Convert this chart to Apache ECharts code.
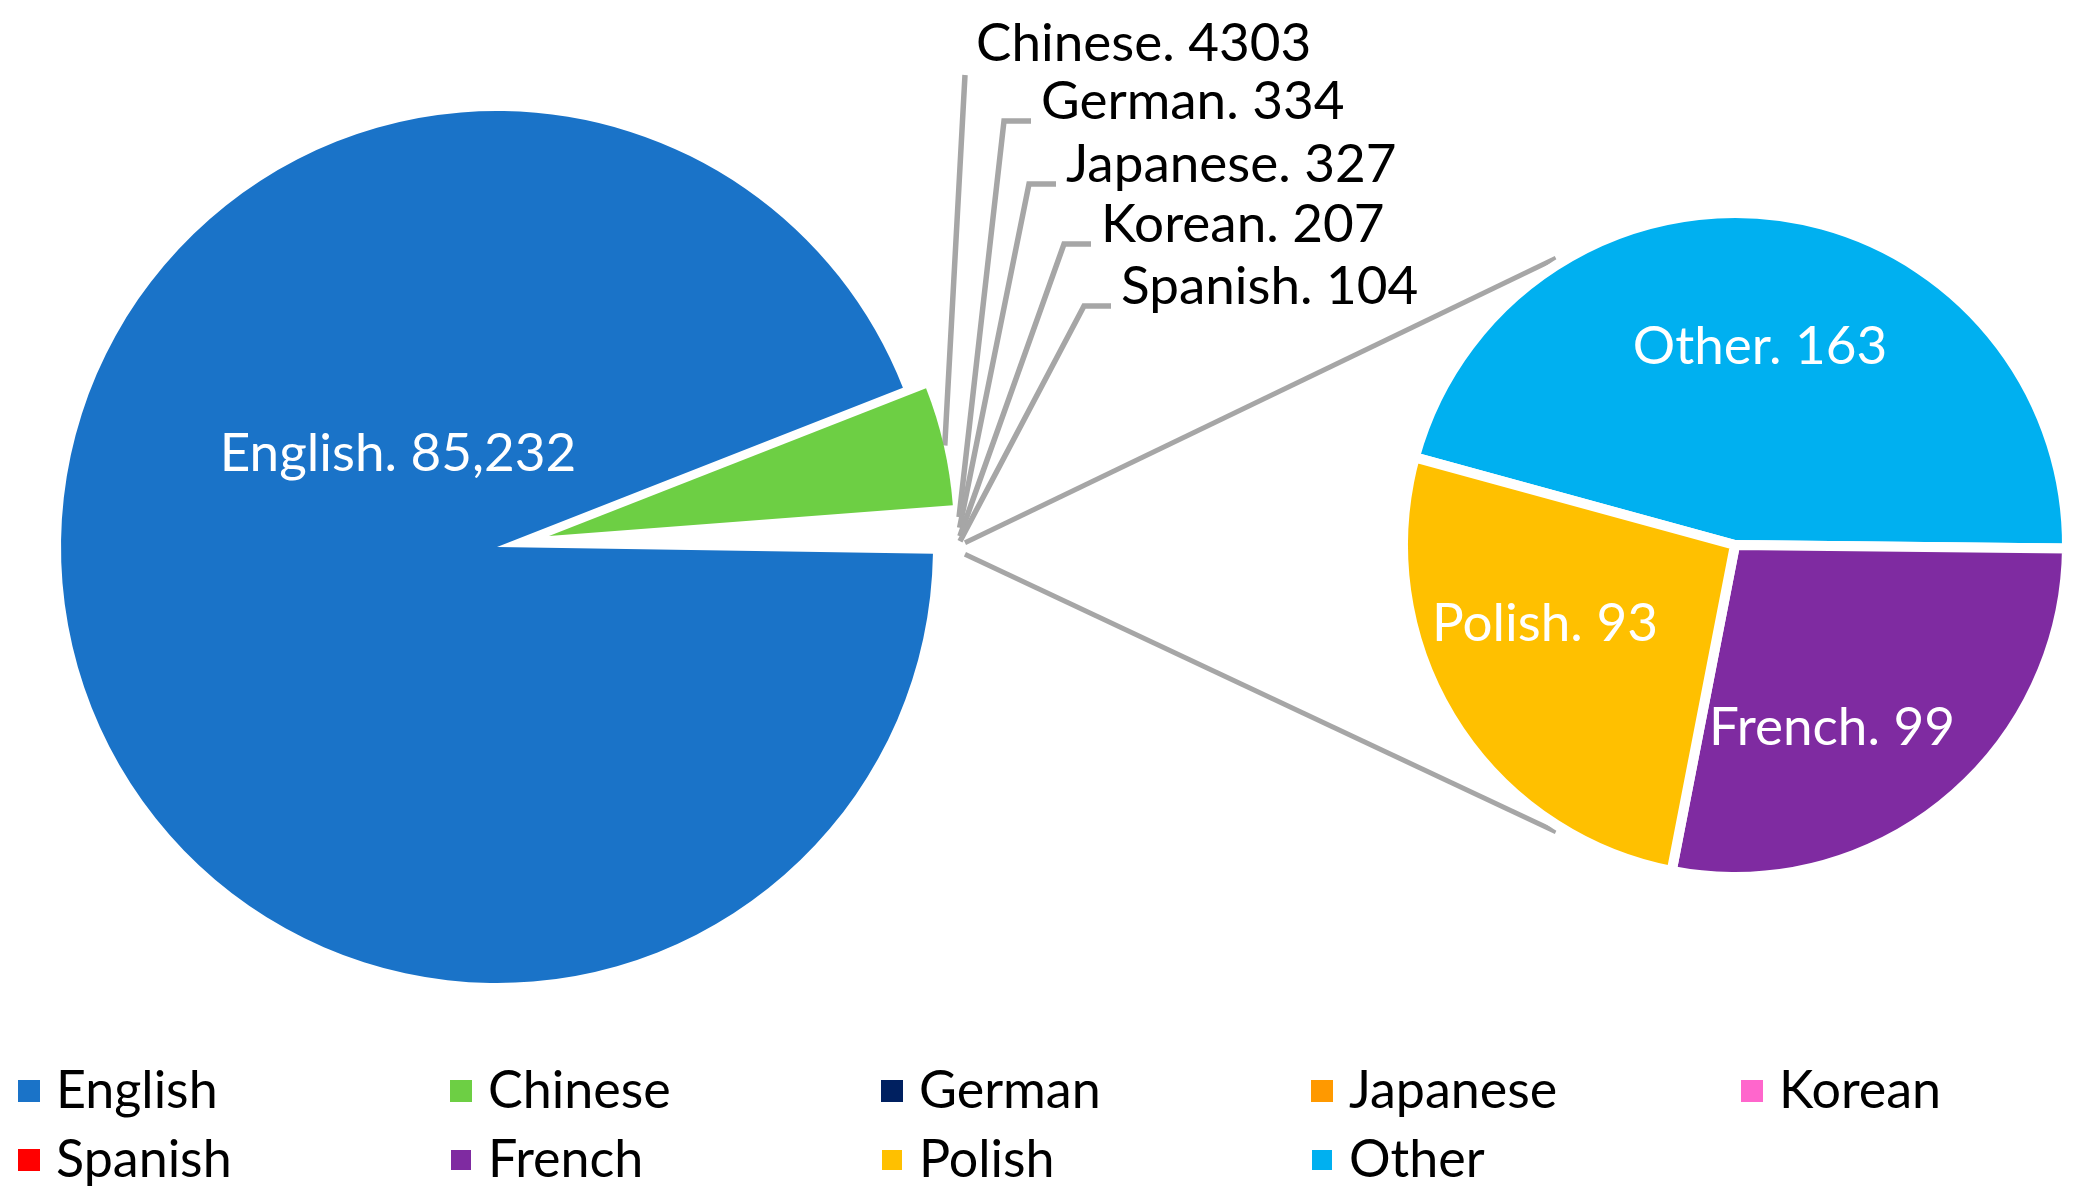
<!DOCTYPE html>
<html>
<head>
<meta charset="utf-8">
<script src="https://cdn.jsdelivr.net/npm/echarts@6/dist/echarts.min.js"></script>
<style>
html,body{margin:0;padding:0;background:#fff}
#chart{width:2078px;height:1200px}
</style>
</head>
<body>
<div id="chart"></div>
<script>
// main pie (first pie) and the split-off part shown in the second pie
var mainNames = ['English', 'Chinese', 'German', 'Japanese', 'Korean', 'Spanish'];
var mainValues = [85232, 4303, 334, 327, 207, 104];
var splitNames = ['Other', 'French', 'Polish'];
var splitValues = [163, 99, 93];
var legendRows = [
  ['English', 'Chinese', 'German', 'Japanese', 'Korean'],
  ['Spanish', 'French', 'Polish', 'Other']
];

var colors = {
  English: '#1a73c8', Chinese: '#6dcf44', German: '#002060', Japanese: '#ff9900',
  Korean: '#ff66cc', Spanish: '#ff0000', French: '#7f2ba1', Polish: '#ffc000', Other: '#00b0f0'
};
var FONT = 'Lato';
var GREY = '#a6a6a6';

// layout
var MAIN_C = [497, 547], MAIN_R = 436;
var CHN_C = [549, 536], CHN_R = 405;     // exploded Chinese slice
var SUB_C = [1735, 545], SUB_R = 332;
var START = 359.1, SUB_START = 164.7;
var callout = {Chinese: [976, 44], German: [1041, 102], Japanese: [1066, 165], Korean: [1101, 225], Spanish: [1121, 287]};
var inside = {English: [398, 454], Other: [1760, 347], Polish: [1545, 624], French: [1832, 728]};
var colX = [13, 444, 875, 1305, 1736];

var groupValue = splitValues.reduce(function (a, b) { return a + b; }, 0);
var allMain = mainValues.concat([groupValue]);
var total = allMain.reduce(function (a, b) { return a + b; }, 0);

function sliceEdge(i) {           // start angle (deg) of slice i, going clockwise
  var a = START;
  for (var j = 0; j < i; j++) a -= allMain[j] / total * 360;
  return a;
}
function midAngle(i) { return sliceEdge(i) - allMain[i] / total * 180; }
function edgePoint(c, r, deg) {
  var t = deg * Math.PI / 180;
  return [c[0] + r * Math.cos(t), c[1] - r * Math.sin(t)];
}
function labelText(p) {
  var v = p.value >= 10000 ? p.value.toLocaleString('en-US') : p.value;
  return p.name + '. ' + v;
}

var myChart = echarts.init(document.getElementById('chart'));

var mainData = mainNames.map(function (n, i) {
  var isEng = n === 'English';
  return {
    name: n, value: mainValues[i],
    itemStyle: {color: isEng ? colors[n] : 'rgba(0,0,0,0)'},
    label: isEng ? {position: 'inside', color: '#fff'} :
      (n === 'Chinese' ? {show: false} : {position: 'outside', color: '#000'}),
    labelLine: {show: !isEng && n !== 'Chinese'}
  };
}).concat([{name: 'Group', value: groupValue, itemStyle: {color: 'rgba(0,0,0,0)'}, label: {show: false}, labelLine: {show: false}}]);

var chineseData = mainNames.map(function (n, i) {
  var isChn = n === 'Chinese';
  return {
    name: n, value: mainValues[i],
    itemStyle: {color: isChn ? colors[n] : 'rgba(0,0,0,0)'},
    label: isChn ? {position: 'outside', color: '#000'} : {show: false},
    labelLine: {show: isChn}
  };
}).concat([{name: 'Group', value: groupValue, itemStyle: {color: 'rgba(0,0,0,0)'}, label: {show: false}, labelLine: {show: false}}]);

var splitData = splitNames.map(function (n, i) {
  return {name: n, value: splitValues[i], itemStyle: {color: colors[n]}};
});

// connector lines between the group slice and the second pie
var grpTop = edgePoint(MAIN_C, 468, sliceEdge(allMain.length - 1));
var grpBot = edgePoint(MAIN_C, 468, sliceEdge(allMain.length));
var subTop = edgePoint(SUB_C, 338, 122);
var subBot = edgePoint(SUB_C, 338, -122);

var baseLabel = {fontFamily: FONT, fontSize: 53, formatter: labelText};

var option = {
  backgroundColor: '#fff',
  animation: false,
  graphic: [
    {type: 'polyline', z: 1, shape: {points: [grpTop, subTop]}, style: {stroke: GREY, lineWidth: 5, fill: null}},
    {type: 'polyline', z: 1, shape: {points: [grpBot, subBot]}, style: {stroke: GREY, lineWidth: 5, fill: null}}
  ],
  legend: colX.map(function (x, c) {
    return {
      orient: 'vertical', left: x, top: 1060,
      itemWidth: 22, itemHeight: 22, itemGap: 17, icon: 'rect',
      textStyle: {fontFamily: FONT, fontSize: 52, lineHeight: 52, color: '#000', padding: [0, 0, 0, 11]},
      data: legendRows.map(function (r) { return r[c]; }).filter(Boolean).map(function (n) {
        return {name: n, itemStyle: {color: colors[n]}};
      })
    };
  }),
  series: [
    {
      name: 'main', type: 'pie', center: MAIN_C, radius: MAIN_R, startAngle: START,
      avoidLabelOverlap: false, emphasis: {scale: false},
      label: baseLabel,
      labelLine: {length: 20, length2: 10, lineStyle: {color: GREY, width: 5.5}},
      labelLayout: function (p) {
        var n = p.dataIndex < mainNames.length ? mainNames[p.dataIndex] : null;
        if (inside[n]) return {x: inside[n][0], y: inside[n][1], align: 'center', verticalAlign: 'middle'};
        var s = callout[n];
        if (!s) return;
        return {
          x: s[0], y: s[1], align: 'left', verticalAlign: 'middle',
          labelLinePoints: [edgePoint(MAIN_C, 463, midAngle(p.dataIndex)), [s[0] - 37, s[1] + 19], [s[0] - 10, s[1] + 19]]
        };
      },
      data: mainData
    },
    {
      name: 'chinese', type: 'pie', center: CHN_C, radius: CHN_R, startAngle: START,
      avoidLabelOverlap: false, emphasis: {scale: false},
      label: baseLabel,
      labelLine: {length: 20, length2: 10, lineStyle: {color: GREY, width: 5.5}},
      labelLayout: function (p) {
        var s = callout[mainNames[p.dataIndex]];
        if (!s) return;
        var a = edgePoint(CHN_C, CHN_R + 1, midAngle(p.dataIndex));
        var b = [s[0] - 11, s[1] + 31];
        return {
          x: s[0], y: s[1], align: 'left', verticalAlign: 'middle',
          labelLinePoints: [a, [(a[0] + b[0]) / 2, (a[1] + b[1]) / 2], b]
        };
      },
      data: chineseData
    },
    {
      name: 'split', type: 'pie', center: SUB_C, radius: SUB_R, startAngle: SUB_START,
      avoidLabelOverlap: false, emphasis: {scale: false},
      itemStyle: {borderColor: '#fff', borderWidth: 10},
      label: {position: 'inside', color: '#fff', fontFamily: FONT, fontSize: 53, formatter: labelText},
      labelLayout: function (p) {
        var s = inside[splitNames[p.dataIndex]];
        return {x: s[0], y: s[1], align: 'center', verticalAlign: 'middle'};
      },
      data: splitData
    }
  ]
};
myChart.setOption(option);
</script>
</body>
</html>
